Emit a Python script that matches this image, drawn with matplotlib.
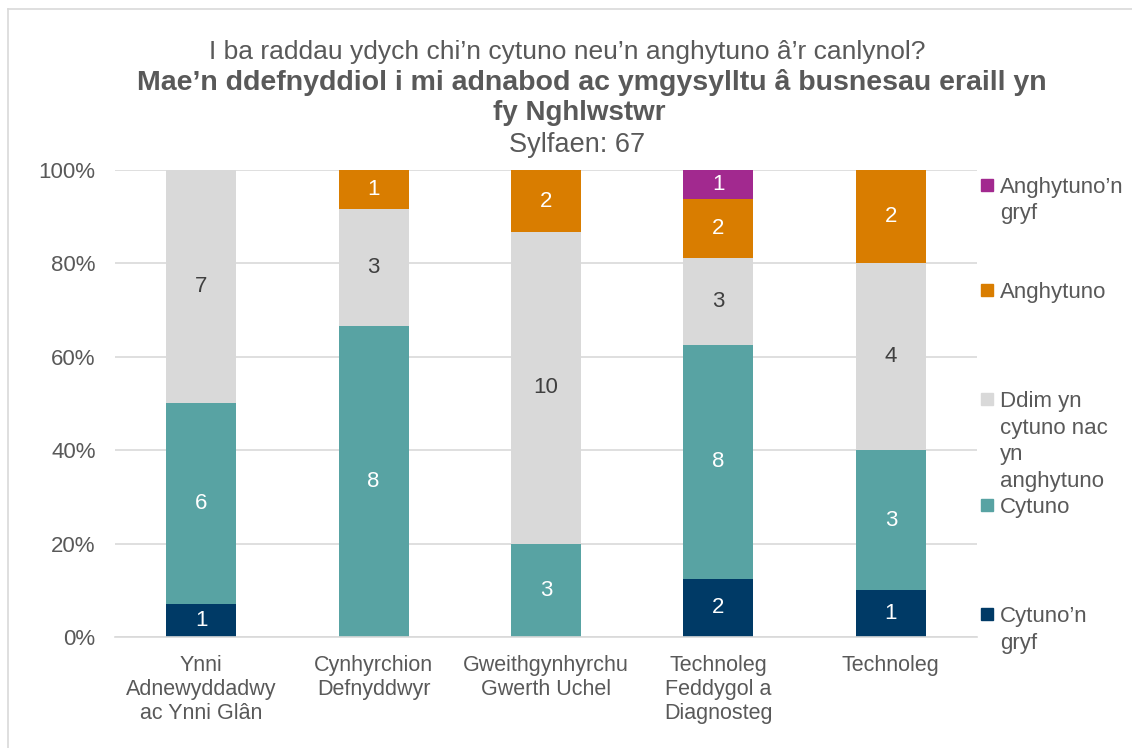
import matplotlib
matplotlib.use("Agg")
import matplotlib.pyplot as plt
from matplotlib.patches import Rectangle
from matplotlib.lines import Line2D
import numpy as np

plt.rcParams['font.family'] = ['Liberation Sans', 'DejaVu Sans']

categories = ["Ynni\nAdnewyddadwy\nac Ynni Glân", "Cynhyrchion\nDefnyddwyr",
              "Gweithgynhyrchu\nGwerth Uchel", "Technoleg\nFeddygol a\nDiagnosteg",
              "Technoleg"]
series_names = ["Cytuno’n gryf", "Cytuno", "Ddim yn cytuno nac yn anghytuno",
                "Anghytuno", "Anghytuno’n gryf"]
legend_labels = ["Cytuno’n\ngryf", "Cytuno", "Ddim yn\ncytuno nac\nyn\nanghytuno",
                 "Anghytuno", "Anghytuno’n\ngryf"]
cytuno_gryf = [1, 0, 0, 2, 1]
cytuno = [6, 8, 3, 8, 3]
ddim = [7, 3, 10, 3, 4]
anghytuno = [0, 1, 2, 2, 2]
anghytuno_gryf = [0, 0, 0, 1, 0]
colors = ["#003A66", "#58A3A3", "#D9D9D9", "#D97D00", "#A2298F"]
label_colors = ["white", "white", "#404040", "white", "white"]
yticks = [0, 20, 40, 60, 80, 100]
title_lines = ["I ba raddau ydych chi’n cytuno neu’n anghytuno â’r canlynol?",
               "Mae’n ddefnyddiol i mi adnabod ac ymgysylltu â busnesau eraill yn",
               "fy Nghlwstwr",
               "Sylfaen: 67"]
title_bold = [False, True, True, False]

counts = np.array([cytuno_gryf, cytuno, ddim, anghytuno, anghytuno_gryf], dtype=float)
totals = counts.sum(axis=0)
pct = counts / totals * 100

W, H = 1132, 748
fig = plt.figure(figsize=(W/100, H/100), dpi=100)
ax = fig.add_axes([115/W, (H-637)/H, 862/W, 467/H])

tc = "#595959"
x = np.arange(len(categories))
bottom = np.zeros(len(categories))
for i in range(len(series_names)):
    bars = ax.bar(x, pct[i], bottom=bottom, width=0.406, color=colors[i], zorder=2)
    for j, b in enumerate(bars):
        if counts[i, j] > 0:
            ax.text(b.get_x() + b.get_width()/2, bottom[j] + pct[i, j]/2,
                    f"{int(counts[i, j])}", ha="center", va="center",
                    color=label_colors[i], fontsize=16)
    bottom += pct[i]

ax.set_xlim(-0.5, len(categories) - 0.5)
ax.set_ylim(0, 100)
ax.set_yticks(yticks)
ax.set_yticklabels([f"{v}%" for v in yticks], fontsize=16, color=tc)
ax.set_xticks(x)
ax.set_xticklabels(categories, fontsize=15.5, color=tc, linespacing=1.2)
ax.tick_params(axis="both", length=0)
ax.tick_params(axis="y", pad=14)
ax.tick_params(axis="x", pad=13)
ax.yaxis.grid(True, color="#D9D9D9", linewidth=1.2, zorder=0)
ax.set_axisbelow(True)
for s in ["top", "right", "left"]:
    ax.spines[s].set_visible(False)
ax.spines["bottom"].set_color("#D9D9D9")
ax.spines["bottom"].set_linewidth(1.2)

# Titles
title_baselines = [59, 90, 120, 152]
title_centers = [567, 592, 579, 577]
title_sizes = [19, 20.5, 20, 19.5]
for line, bold, yb, xc, fs in zip(title_lines, title_bold, title_baselines,
                                  title_centers, title_sizes):
    fig.text(xc/W, 1 - yb/H, line, ha="center", va="baseline",
             fontsize=fs, color=tc, fontweight="bold" if bold else "normal")

# Legend (manual, to mimic layout)
leg_first_line_y = [614, 505, 399, 290, 185]
for i in range(len(series_names)):
    y0 = leg_first_line_y[i]
    fig.patches.append(Rectangle((981/W, 1 - (y0 + 6)/H), 12/W, 12/H,
                                 transform=fig.transFigure, color=colors[i]))
    for k, part in enumerate(legend_labels[i].split("\n")):
        fig.text(1000/W, 1 - (y0 + 8 + k*26.5)/H, part, ha="left", va="baseline",
                 fontsize=16, color=tc)

# Border
fig.add_artist(Line2D([8/W, 8/W], [0, 1 - 9/H], transform=fig.transFigure,
                      color="#D9D9D9", linewidth=1.2))
fig.add_artist(Line2D([8/W, 1], [1 - 9/H, 1 - 9/H], transform=fig.transFigure,
                      color="#D9D9D9", linewidth=1.2))

fig.savefig("out.png", dpi=100)
